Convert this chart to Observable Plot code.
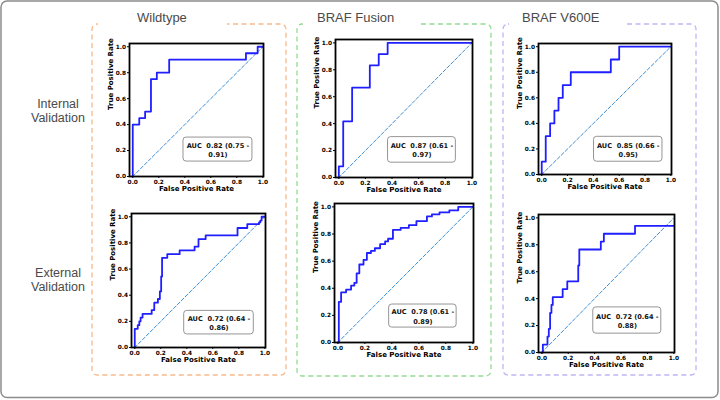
<!DOCTYPE html>
<html><head><meta charset="utf-8">
<script src="https://cdn.jsdelivr.net/npm/d3@7"></script>
<script src="https://cdn.jsdelivr.net/npm/@observablehq/plot@0.6"></script>
<style>
html,body{margin:0;padding:0;background:#fff;}
#root{position:relative;width:720px;height:400px;overflow:hidden;background:#fff;}
#root svg.deco{position:absolute;left:0;top:0;}
.panel{position:absolute;}
</style></head><body><div id="root"></div>
<script>
// ---------- data ----------
const columns = ["Wildtype", "BRAF Fusion", "BRAF V600E"];
const rowsLabels = [["Internal", "Validation"], ["External", "Validation"]];
const tickValues = [0, 0.2, 0.4, 0.6, 0.8, 1.0];
const chance = [0, 1];

// ROC step points (fpr, tpr) — step-after
const wtIntFpr = [0, 0, 0.05, 0.095, 0.14, 0.185, 0.28, 0.87, 0.96, 1.0];
const wtIntTpr = [0, 0.40, 0.45, 0.50, 0.75, 0.80, 0.90, 0.95, 1.0, 1.0];

const fuIntFpr = [0, 0, 0.033, 0.10, 0.233, 0.30, 0.367, 1.0];
const fuIntTpr = [0, 0.083, 0.417, 0.667, 0.833, 0.917, 1.0, 1.0];

const veIntFpr = [0, 0, 0.031, 0.065, 0.098, 0.13, 0.163, 0.225, 0.535, 0.60, 1.0];
const veIntTpr = [0, 0.10, 0.30, 0.40, 0.50, 0.60, 0.70, 0.80, 0.90, 1.0, 1.0];

const wtExtFpr = [0, 0, 0.023, 0.035, 0.045, 0.06, 0.13, 0.15, 0.178, 0.193, 0.203, 0.21, 0.25, 0.345, 0.46, 0.49, 0.545, 0.79, 0.865, 0.955, 0.965, 0.975, 1.0];
const wtExtTpr = [0, 0.143, 0.171, 0.20, 0.229, 0.257, 0.286, 0.343, 0.371, 0.429, 0.543, 0.686, 0.714, 0.743, 0.771, 0.829, 0.857, 0.914, 0.943, 0.957, 0.971, 1.0, 1.0];

const fuExtFpr = [0, 0.007, 0.024, 0.061, 0.098, 0.122, 0.139, 0.159, 0.19, 0.215, 0.245, 0.274, 0.313, 0.35, 0.372, 0.408, 0.465, 0.526, 0.582, 0.66, 0.697, 0.753, 0.826, 0.892, 1.0];
const fuExtTpr = [0, 0.30, 0.37, 0.39, 0.42, 0.44, 0.51, 0.575, 0.61, 0.66, 0.675, 0.695, 0.725, 0.745, 0.765, 0.83, 0.845, 0.865, 0.895, 0.93, 0.945, 0.96, 0.975, 1.0, 1.0];

const veExtFpr = [0, 0.008, 0.043, 0.053, 0.063, 0.073, 0.083, 0.158, 0.193, 0.276, 0.284, 0.447, 0.47, 0.706, 1.0];
const veExtTpr = [0, 0.059, 0.118, 0.176, 0.294, 0.353, 0.412, 0.471, 0.529, 0.647, 0.765, 0.824, 0.882, 0.941, 0.941];

const aucValues = [0.82, 0.87, 0.85, 0.72, 0.78, 0.72];
const ciLow = [0.75, 0.61, 0.66, 0.64, 0.61, 0.64];
const ciHigh = [0.91, 0.97, 0.95, 0.86, 0.89, 0.88];

const curves = [
  [wtIntFpr, wtIntTpr], [fuIntFpr, fuIntTpr], [veIntFpr, veIntTpr],
  [wtExtFpr, wtExtTpr], [fuExtFpr, fuExtTpr], [veExtFpr, veExtTpr]
];

// ---------- layout (positions/styles) ----------
const panelLayout = [
  {left: 129, top: 43, w: 134, h: 133, box: [0.39, 0.92, 0.115, 0.30]},
  {left: 335, top: 39, w: 137, h: 138, box: [0.37, 0.88, 0.11, 0.30]},
  {left: 538, top: 43, w: 133, h: 131, box: [0.405, 0.935, 0.10, 0.295]},
  {left: 131, top: 213, w: 134, h: 134, box: [0.38, 0.915, 0.10, 0.28]},
  {left: 334, top: 203, w: 139, h: 139, box: [0.38, 0.88, 0.11, 0.28]},
  {left: 538, top: 214, w: 136, h: 138, box: [0.39, 0.905, 0.14, 0.335]}
];
const groupBoxes = [
  {x: 92, y: 24, w: 194, h: 351, color: "#f8b98a", gapEnd: 227, titleX: 137},
  {x: 297, y: 24, w: 194, h: 352, color: "#93dc93", gapEnd: 420, titleX: 317},
  {x: 503, y: 24, w: 193, h: 351, color: "#bdb6f4", gapEnd: 627, titleX: 522}
];

const root = d3.select("#root");
const deco = root.append("svg").attr("class", "deco").attr("width", 720).attr("height", 400);
deco.append("rect").attr("x", 1).attr("y", 1).attr("width", 717).attr("height", 396.5)
  .attr("rx", 6).attr("fill", "#fff").attr("stroke", "#8c8c8c").attr("stroke-width", 1.5);

groupBoxes.forEach((b, i) => {
  deco.append("rect").attr("x", b.x).attr("y", b.y).attr("width", b.w).attr("height", b.h)
    .attr("rx", 5).attr("fill", "none").attr("stroke", b.color).attr("stroke-width", 1.3)
    .attr("stroke-dasharray", "5,3.5");
  deco.append("rect").attr("x", b.x + 6).attr("y", b.y - 3).attr("width", b.gapEnd - b.x - 6).attr("height", 6)
    .attr("fill", "#fff");
  deco.append("text").attr("x", b.titleX).attr("y", 22).text(columns[i])
    .attr("font-family", "Liberation Sans, Arial, sans-serif").attr("font-size", 13).attr("fill", "#4a4a4a");
});

const rowCenters = [108, 277];
rowsLabels.forEach((lines, r) => {
  const t = deco.append("text").attr("text-anchor", "middle")
    .attr("font-family", "Liberation Sans, Arial, sans-serif").attr("font-size", 12.5).attr("fill", "#4a4a4a");
  lines.forEach((ln, k) => t.append("tspan").attr("x", 58).attr("y", rowCenters[r] + k * 14).text(ln));
});

const fmt = d3.format(".1f");
const mL = 32, mR = 8, mT = 8, mB = 24;

panelLayout.forEach((L, i) => {
  const [fpr, tpr] = curves[i];
  const pts = fpr.map((x, k) => ({fpr: x, tpr: tpr[k]}));
  const [bx1, bx2, by1, by2] = L.box;
  const label = `AUC  ${aucValues[i].toFixed(2)} (${ciLow[i].toFixed(2)} -\n${ciHigh[i].toFixed(2)})`;
  const W = L.w + mL + mR, H = L.h + mT + mB;
  const svg = Plot.plot({
    width: W, height: H,
    marginLeft: mL, marginRight: mR, marginTop: mT, marginBottom: mB,
    style: {fontFamily: "DejaVu Sans, sans-serif", background: "transparent", maxWidth: "none", overflow: "visible", color: "#000"},
    x: {domain: [-0.025, 1.005]},
    y: {domain: [0, 1.025]},
    marks: [
      Plot.axisX({ticks: tickValues, tickFormat: fmt, tickSize: 2, tickPadding: 1.5, fontSize: 5.8, fontWeight: "bold", label: null}),
      Plot.axisY({ticks: tickValues, tickFormat: fmt, tickSize: 2, tickPadding: 1.5, fontSize: 5.8, fontWeight: "bold", label: null}),
      Plot.line(chance, {x: d => d, y: d => d, stroke: "#3d8fd6", strokeWidth: 1, strokeDasharray: "3.5,2"}),
      Plot.line(pts, {x: "fpr", y: "tpr", curve: "step-after", stroke: "#1f1fff", strokeWidth: 1.8}),
      Plot.rect([0], {x1: () => bx1, x2: () => bx2, y1: () => by1, y2: () => by2, rx: 3, fill: "#fff", stroke: "#7a7a7a", strokeWidth: 0.8}),
      Plot.text([label], {x: () => (bx1 + bx2) / 2, y: () => (by1 + by2) / 2, fontSize: 6.6, fontWeight: "bold", lineHeight: 1.4, fill: "#111"}),
      Plot.text(["False Positive Rate"], {frameAnchor: "bottom", dy: 14.5, fontSize: 7, fontWeight: "bold"}),
      Plot.text(["True Positive Rate"], {frameAnchor: "left", rotate: -90, dx: -19, fontSize: 7, fontWeight: "bold"}),
      Plot.frame({stroke: "#000", strokeWidth: 1.8})
    ]
  });
  root.append("div").attr("class", "panel")
    .style("left", (L.left - mL) + "px").style("top", (L.top - mT) + "px")
    .style("width", W + "px").style("height", H + "px")
    .node().appendChild(svg);
});
</script>
</body></html>
